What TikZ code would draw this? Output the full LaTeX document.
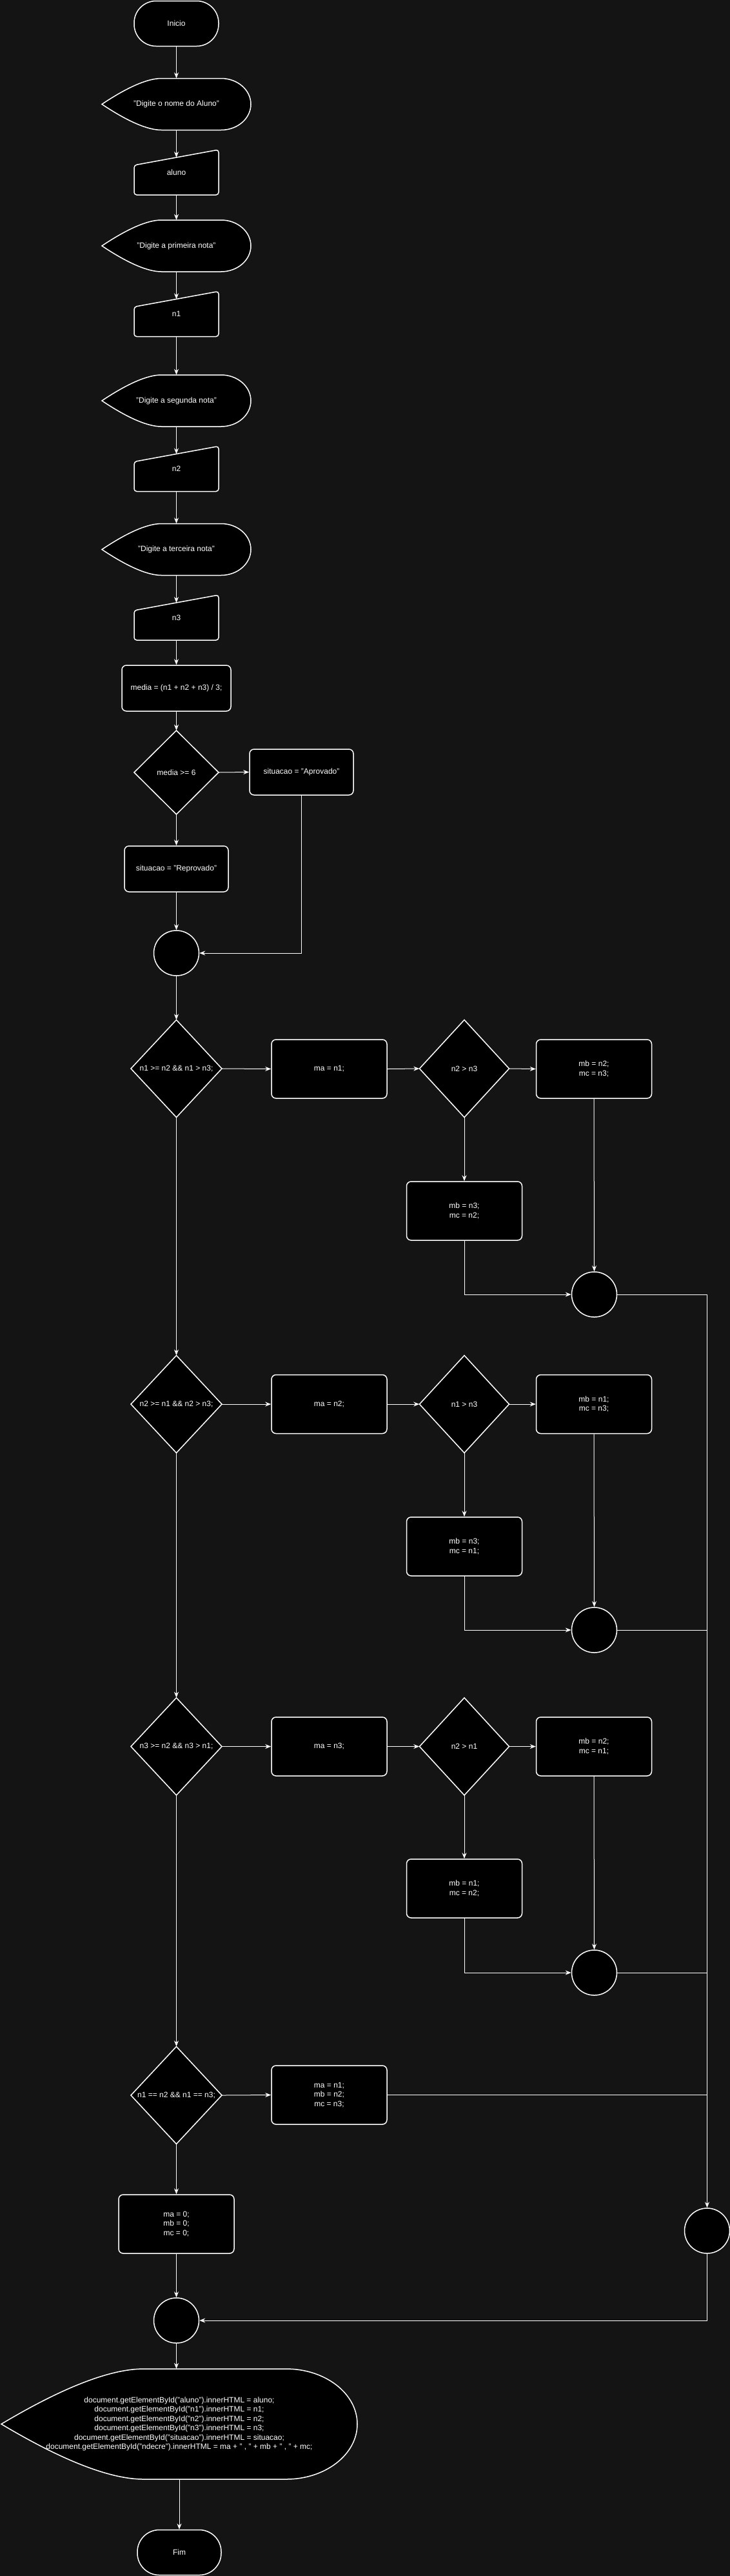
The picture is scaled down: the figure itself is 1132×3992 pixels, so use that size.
\documentclass[tikz,border=0pt]{standalone}
\usepackage{fontspec}
\setmainfont{Liberation Sans}
\usetikzlibrary{arrows.meta}
\definecolor{bgc}{HTML}{141414}
\tikzset{
  shp/.style={draw=white, fill=black, line width=1.5pt},
  txt/.style={text=white, font=\fontsize{12}{14.5}\selectfont, align=center, inner sep=0pt},
  box/.style={shp, txt, rounded corners=7pt},
  term/.style={shp, txt, rounded corners=34pt, minimum width=131pt, minimum height=70pt},
  junc/.style={shp, circle, minimum size=70pt, inner sep=0pt},
  arr/.style={draw=white, line width=1pt, -{Stealth[length=9pt,width=7pt,inset=3pt]}},
  ln/.style={draw=white, line width=1pt},
}
% diamond: name, cx, cy, w, h, text
\newcommand\mydiam[6]{%
  \filldraw[shp] (#2,{#3-#5/2}) -- ({#2+#4/2},#3) -- (#2,{#3+#5/2}) -- ({#2-#4/2},#3) -- cycle;
  \node[txt, minimum width=#4pt, minimum height=#5pt] (#1) at (#2,#3) {#6};
}
% manual input: name, cx, cy, text  (131 x 70)
\newcommand\myman[4]{%
  \filldraw[shp, rounded corners=4pt] ({#2-65.5},{#3+35}) -- ({#2-65.5},{#3-11}) -- ({#2+65.5},{#3-35}) -- ({#2+65.5},{#3+35}) -- cycle;
  \node[txt, minimum width=131pt, minimum height=70pt] (#1) at (#2,#3) {#4};
  \coordinate (#1-in) at (#2,{#3-23});
}
% display: name, cx, cy, w, h, text
\newcommand\mydisp[6]{%
  \pgfmathsetmacro\dXl{#2-#4/2}\pgfmathsetmacro\dXr{#2+#4/2}%
  \pgfmathsetmacro\dYt{#3-#5/2}\pgfmathsetmacro\dYb{#3+#5/2}%
  \pgfmathsetmacro\dDl{0.4*#4}\pgfmathsetmacro\dDr{0.2*#4}\pgfmathsetmacro\dHh{#5/2}%
  \filldraw[shp] (\dXl,#3) .. controls ({\dXl+0.433*\dDl},{#3-0.667*\dHh}) and ({\dXl+0.767*\dDl},\dYt) .. ({\dXl+\dDl},\dYt)
    -- ({\dXr-\dDr},\dYt) .. controls ({\dXr-\dDr+0.5523*\dDr},\dYt) and (\dXr,{#3-0.5523*\dHh}) .. (\dXr,#3)
    .. controls (\dXr,{#3+0.5523*\dHh}) and ({\dXr-\dDr+0.5523*\dDr},\dYb) .. ({\dXr-\dDr},\dYb)
    -- ({\dXl+\dDl},\dYb) .. controls ({\dXl+0.767*\dDl},\dYb) and ({\dXl+0.433*\dDl},{#3+0.667*\dHh}) .. (\dXl,#3) -- cycle;
  \node[txt, minimum width=#4pt, minimum height=#5pt] (#1) at (#2,#3) {#6};
}
\begin{document}
\begin{tikzpicture}[x=1pt,y=-1pt]
\fill[bgc] (0,0) rectangle (1132,3992);
\useasboundingbox (0,0) rectangle (1132,3992);

% --- input part ---
\node[term] (ini) at (273.5,36.5) {Inicio};
\mydisp{d1}{273.5}{161.5}{231}{80}{"Digite o nome do Aluno"}
\myman{aluno}{273.5}{267}{aluno}
\mydisp{d2}{273.5}{381}{231}{80}{"Digite a primeira nota"}
\myman{n1}{273.5}{486.5}{n1}
\mydisp{d3}{273.5}{621}{231}{80}{"Digite a segunda nota"}
\myman{n2}{273.5}{726.5}{n2}
\mydisp{d4}{273.5}{851.5}{231}{80}{"Digite a terceira nota"}
\myman{n3}{273.5}{957}{n3}
\node[box, minimum width=169pt, minimum height=71pt] (media) at (273.5,1066.5) {media = (n1 + n2 + n3) / 3;};
\mydiam{dec}{273.5}{1197}{131}{130}{media >= 6}
\node[box, minimum width=161pt, minimum height=71pt] (aprov) at (467.5,1196.5) {situacao = "Aprovado"};
\node[box, minimum width=161pt, minimum height=71pt] (reprov) at (273.5,1346.5) {situacao = "Reprovado"};
\node[junc] (c1) at (273.5,1477) {};

% --- group 1 ---
\mydiam{D1}{273.5}{1656}{141}{151}{n1 >= n2 \&\& n1 > n3;}
\node[box, minimum width=179pt, minimum height=91pt] (ma1) at (510.5,1656.5) {ma = n1;};
\mydiam{D1b}{720}{1656}{139}{151}{n2 > n3}
\node[box, minimum width=179pt, minimum height=91pt] (mb1) at (921,1656.5) {mb = n2;\\mc = n3;};
\node[box, minimum width=179pt, minimum height=91pt] (mc1) at (720,1876.5) {mb = n3;\\mc = n2;};
\node[junc] (c2) at (921.5,2006) {};

% --- group 2 ---
\mydiam{D2}{273.5}{2176}{141}{151}{n2 >= n1 \&\& n2 > n3;}
\node[box, minimum width=179pt, minimum height=91pt] (ma2) at (510.5,2176) {ma = n2;};
\mydiam{D2b}{720}{2176}{139}{151}{n1 > n3}
\node[box, minimum width=179pt, minimum height=91pt] (mb2) at (921,2176) {mb = n1;\\mc = n3;};
\node[box, minimum width=179pt, minimum height=91pt] (mc2) at (720,2396.5) {mb = n3;\\mc = n1;};
\node[junc] (c3) at (921.5,2526) {};

% --- group 3 ---
\mydiam{D3}{273.5}{2706.5}{141}{151}{n3 >= n2 \&\& n3 > n1;}
\node[box, minimum width=179pt, minimum height=91pt] (ma3) at (510.5,2706.5) {ma = n3;};
\mydiam{D3b}{720}{2706.5}{139}{151}{n2 > n1}
\node[box, minimum width=179pt, minimum height=91pt] (mb3) at (921,2706.5) {mb = n2;\\mc = n1;};
\node[box, minimum width=179pt, minimum height=91pt] (mc3) at (720,2926.5) {mb = n1;\\mc = n2;};
\node[junc] (c4) at (921.5,3057) {};

% --- group 4 ---
\mydiam{D4}{273.5}{3247}{141}{151}{n1 == n2 \&\& n1 == n3;}
\node[box, minimum width=179pt, minimum height=91pt] (ma4) at (510.5,3246.5) {ma = n1;\\mb = n2;\\mc = n3;};
\node[box, minimum width=179pt, minimum height=91pt] (zero) at (273.5,3446.5) {ma = 0;\\mb = 0;\\mc = 0;};
\node[junc] (c5) at (1096.5,3457) {};
\node[junc] (c6) at (273.5,3596) {};

% --- output ---
\mydisp{big}{278}{3756.5}{552}{171}{document.getElementById("aluno").innerHTML = aluno;\\document.getElementById("n1").innerHTML = n1;\\document.getElementById("n2").innerHTML = n2;\\document.getElementById("n3").innerHTML = n3;\\document.getElementById("situacao").innerHTML = situacao;\\document.getElementById("ndecre").innerHTML = ma + " , " + mb + " , " + mc;}
\node[term, minimum width=130pt] (fim) at (278,3955.5) {Fim};

% --- connectors ---
\draw[arr] (ini.south) -- (d1.north);
\draw[arr] (d1.south) -- (aluno-in);
\draw[arr] (aluno.south) -- (d2.north);
\draw[arr] (d2.south) -- (n1-in);
\draw[arr] (n1.south) -- (d3.north);
\draw[arr] (d3.south) -- (n2-in);
\draw[arr] (n2.south) -- (d4.north);
\draw[arr] (d4.south) -- (n3-in);
\draw[arr] (n3.south) -- (media.north);
\draw[arr] (media.south) -- (dec.north);
\draw[arr] (dec.east) -- (aprov.west);
\draw[arr] (dec.south) -- (reprov.north);
\draw[arr] (reprov.south) -- (c1.north);
\draw[arr] (aprov.south) |- (c1.east);
\draw[arr] (c1.south) -- (D1.north);

\draw[arr] (D1.east) -- (ma1.west);
\draw[arr] (ma1.east) -- (D1b.west);
\draw[arr] (D1b.east) -- (mb1.west);
\draw[arr] (D1b.south) -- (mc1.north);
\draw[arr] (mb1.south) -- (c2.north);
\draw[arr] (mc1.south) |- (c2.west);
\draw[arr] (D1.south) -- (D2.north);

\draw[arr] (D2.east) -- (ma2.west);
\draw[arr] (ma2.east) -- (D2b.west);
\draw[arr] (D2b.east) -- (mb2.west);
\draw[arr] (D2b.south) -- (mc2.north);
\draw[arr] (mb2.south) -- (c3.north);
\draw[arr] (mc2.south) |- (c3.west);
\draw[arr] (D2.south) -- (D3.north);

\draw[arr] (D3.east) -- (ma3.west);
\draw[arr] (ma3.east) -- (D3b.west);
\draw[arr] (D3b.east) -- (mb3.west);
\draw[arr] (D3b.south) -- (mc3.north);
\draw[arr] (mb3.south) -- (c4.north);
\draw[arr] (mc3.south) |- (c4.west);
\draw[arr] (D3.south) -- (D4.north);

\draw[arr] (D4.east) -- (ma4.west);
\draw[arr] (D4.south) -- (zero.north);
\draw[arr] (c2.east) -| (c5.north);
\draw[ln] (c3.east) -- (c3.east -| c5.north);
\draw[ln] (c4.east) -- (c4.east -| c5.north);
\draw[ln] (ma4.east) -- (ma4.east -| c5.north);
\draw[arr] (zero.south) -- (c6.north);
\draw[arr] (c5.south) |- (c6.east);
\draw[arr] (c6.south) -- (c6.south |- big.north);
\draw[arr] (big.south) -- (fim.north);
\end{tikzpicture}
\end{document}
